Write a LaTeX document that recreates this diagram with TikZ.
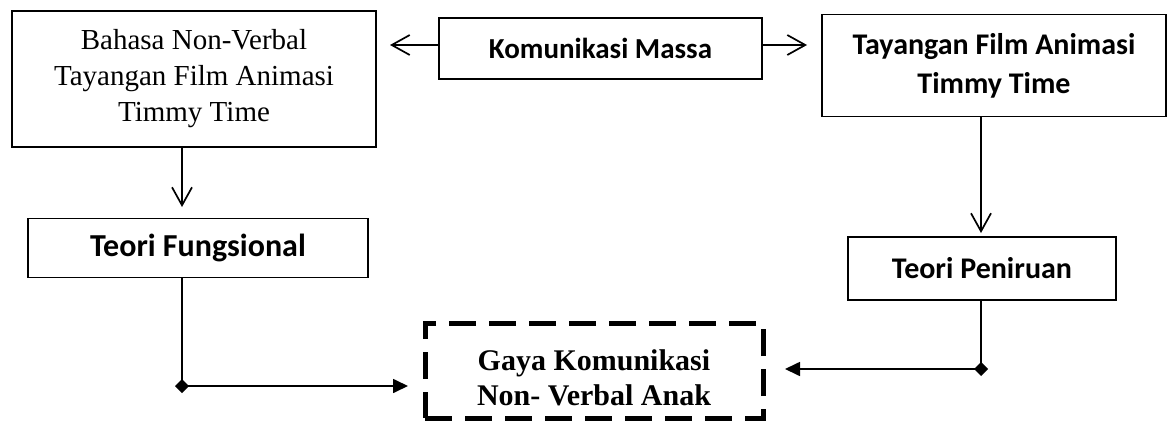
\documentclass[tikz,border=0pt]{standalone}
\usepackage{fontspec}
\setmainfont{Liberation Serif}
\newfontfamily\calib{Carlito}
\usetikzlibrary{arrows.meta}
\begin{document}
\begin{tikzpicture}[x=1pt,y=-1pt,
  box/.style={draw, line width=1.7pt, inner sep=0pt, align=center},
  serifbig/.style={font=\fontsize{29}{36}\selectfont},
  calbold/.style={font=\calib\bfseries\fontsize{#1}{39}\selectfont},
  calbold/.default=30,
  conn/.style={line width=1.7pt},
  openarrow/.style={conn, -{Straight Barb[length=18pt,width=20pt]}},
  joinarrow/.style={conn, {Diamond[length=14pt,width=14pt]}-{Triangle[length=15pt,width=14pt]}}]
\useasboundingbox (0,0) rectangle (1168,423);
% boxes
\node[box, serifbig, minimum width=364pt, minimum height=136pt] (a) at (194,79)
  {Bahasa Non-Verbal\\Tayangan Film Animasi\\Timmy Time};
\node[box, calbold=29, minimum width=323pt, minimum height=61pt] (k) at (600.5,48.5) {Komunikasi Massa};
\node[box, calbold=30, minimum width=344pt, minimum height=102pt] (t) at (994,65.5)
  {Tayangan Film Animasi\\Timmy Time};
\node[box, calbold=32, minimum width=340pt, minimum height=59pt] (tf) at (198,248) {Teori Fungsional};
\node[box, calbold=30, minimum width=268pt, minimum height=63pt] (tp) at (982,268.5) {Teori Peniruan};
\node[draw, line width=5pt, dash pattern=on 27pt off 13pt, inner sep=0pt,
  minimum width=338pt, minimum height=95pt] (g) at (594,370.5) {};
\node[align=center, inner sep=0pt, font=\bfseries\fontsize{30}{35}\selectfont]
  (gt) at (594,378) {Gaya Komunikasi\\Non- Verbal Anak};
% helper coordinates
\coordinate (ka) at (390,45);
\coordinate (kt) at (807,45);
\coordinate (x1) at (182,0);
\coordinate (x2) at (981,0);
\coordinate (tip1) at (182,207);
\coordinate (tip2) at (981,233);
\coordinate (j1) at (182,386);
\coordinate (j2) at (981,369);
\coordinate (e1) at (408,386);
\coordinate (e2) at (785,369);
% connectors
\draw[openarrow] (k.west |- ka) -- (ka);
\draw[openarrow] (k.east |- kt) -- (kt);
\draw[openarrow] (a.south -| x1) -- (tip1);
\draw[openarrow] (t.south -| x2) -- (tip2);
\draw[conn] (tf.south -| x1) -- (j1);
\draw[conn] (tp.south -| x2) -- (j2);
\draw[joinarrow] ([xshift=-7pt]j1) -- (e1);
\draw[joinarrow] ([xshift=7pt]j2) -- (e2);
\end{tikzpicture}
\end{document}
